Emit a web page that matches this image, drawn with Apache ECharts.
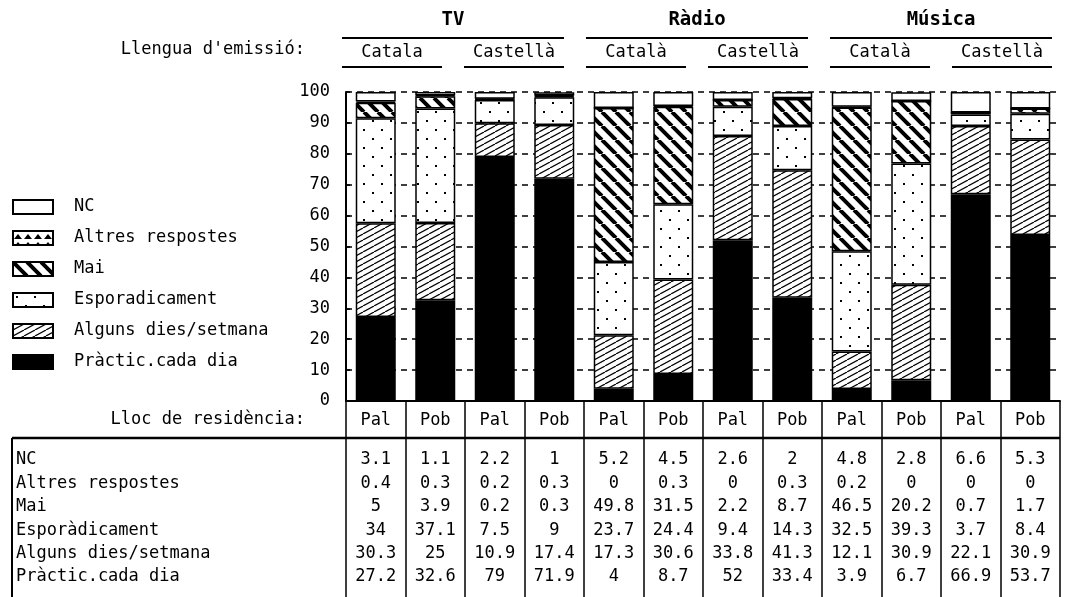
<!DOCTYPE html>
<html><head><meta charset="utf-8">
<script src="https://cdn.jsdelivr.net/npm/echarts@6/dist/echarts.min.js"></script>
<style>html,body{margin:0;padding:0;background:#fff}#c{width:1065px;height:597px}</style>
</head><body><div id="c"></div>
<script>
// ---- data ----
const categories = ['Pal','Pob','Pal','Pob','Pal','Pob','Pal','Pob','Pal','Pob','Pal','Pob'];
const media = ['TV','Ràdio','Música'];
const languages = ['Catala','Castellà','Català','Castellà','Català','Castellà'];
const legendNames = ['NC','Altres respostes','Mai','Esporadicament','Alguns dies/setmana','Pràctic.cada dia'];
const tableRowLabels = ['NC','Altres respostes','Mai','Esporàdicament','Alguns dies/setmana','Pràctic.cada dia'];
const yTicks = [0,10,20,30,40,50,60,70,80,90,100];
const valNC      = [3.1,1.1,2.2,1,5.2,4.5,2.6,2,4.8,2.8,6.6,5.3];
const valAltres  = [0.4,0.3,0.2,0.3,0,0.3,0,0.3,0.2,0,0,0];
const valMai     = [5,3.9,0.2,0.3,49.8,31.5,2.2,8.7,46.5,20.2,0.7,1.7];
const valEspor   = [34,37.1,7.5,9,23.7,24.4,9.4,14.3,32.5,39.3,3.7,8.4];
const valAlguns  = [30.3,25,10.9,17.4,17.3,30.6,33.8,41.3,12.1,30.9,22.1,30.9];
const valPractic = [27.2,32.6,79,71.9,4,8.7,52,33.4,3.9,6.7,66.9,53.7];

const FONT = '"DejaVu Sans Mono", "Liberation Mono", monospace';

function pat(w,h,draw){
  const c=document.createElement('canvas');c.width=w;c.height=h;
  const g=c.getContext('2d');g.fillStyle='#fff';g.fillRect(0,0,w,h);
  g.fillStyle='#000';g.strokeStyle='#000';draw(g,w,h);
  return {image:c,repeat:'repeat'};
}
const fillNC = '#ffffff';
const fillAltres = pat(10,8,(g,w,h)=>{g.beginPath();g.moveTo(1,h);g.lineTo(5,3);g.lineTo(9,h);g.closePath();g.fill();});
const fillMai = pat(14,14,(g,w,h)=>{g.lineWidth=4;g.beginPath();for(const dx of [-w,0,w]){g.moveTo(dx,0);g.lineTo(dx+w,h);}g.stroke();});
const fillEspor = pat(18,18,(g)=>{g.fillRect(3,3,2,2);g.fillRect(12,12,2,2);});
const fillAlguns = pat(11,6,(g,w,h)=>{g.lineWidth=1.2;g.beginPath();for(const dx of [-w,0,w]){g.moveTo(dx,h);g.lineTo(dx+w,0);}g.stroke();});
const fillPractic = '#000000';

const seriesDefs = [
  [legendNames[5], valPractic, fillPractic],
  [legendNames[4], valAlguns, fillAlguns],
  [legendNames[3], valEspor, fillEspor],
  [legendNames[2], valMai, fillMai],
  [legendNames[1], valAltres, fillAltres],
  [legendNames[0], valNC, fillNC]
];

const chart = echarts.init(document.getElementById('c'), null, {renderer:'canvas'});
const option = {
  backgroundColor:'#fff',
  animation:false,
  textStyle:{fontFamily:FONT,color:'#000'},
  legend:{
    data:legendNames, orient:'vertical', left:12, top:197, padding:0, itemWidth:40, itemHeight:14, itemGap:11,
    icon:'rect',
    textStyle:{fontFamily:FONT,fontSize:17,color:'#000',padding:[0,0,0,16],lineHeight:20},
    selectedMode:false
  },
  grid:{left:346, top:92, right:5, bottom:196, containLabel:false},
  xAxis:{
    type:'category', data:categories,
    axisLine:{lineStyle:{color:'#000',width:2}},
    axisTick:{show:true, alignWithLabel:false, inside:false, length:196, lineStyle:{color:'#000',width:1.5}},
    axisLabel:{fontFamily:FONT,fontSize:17,color:'#000',margin:11},
    splitLine:{show:false}
  },
  yAxis:{
    type:'value', min:0, max:100, interval:10,
    axisLine:{show:true,lineStyle:{color:'#000',width:2}},
    axisTick:{show:true,inside:true,length:4,lineStyle:{color:'#000',width:1.5}},
    axisLabel:{fontFamily:FONT,fontSize:17,color:'#000',margin:16},
    splitLine:{show:true,lineStyle:{color:'#000',width:1.5,type:[6,5]}}
  },
  series: seriesDefs.map(([name,data,fill])=>({
    name, type:'bar', stack:'t', data, barWidth:40,
    itemStyle:{color:fill,borderColor:'#000',borderWidth:1.5},
    emphasis:{disabled:true}
  }))
};
chart.setOption(option);

function buildGraphics(){
  const px = i => chart.convertToPixel({xAxisIndex:0}, i);
  const band = px(1)-px(0);
  const bandLeft = i => px(i)-band/2;
  const els = [];
  const txt = (text,x,y,opts={}) => els.push({type:'text',x,y,silent:true,style:Object.assign({text,fontFamily:FONT,fontSize:17,fill:'#000',align:'center',verticalAlign:'middle'},opts)});
  const line = (x1,y1,x2,y2,w=2) => els.push({type:'line',silent:true,shape:{x1,y1,x2,y2},style:{stroke:'#000',lineWidth:w}});
  const langSpan = [];
  for(let k=0;k<languages.length;k++){
    const s = bandLeft(2*k) - 4 + 3*k, e = s + 100;
    langSpan.push([s,e]);
    txt(languages[k], (s+e)/2, 53);
    line(s,67,e,67);
  }
  for(let g=0;g<media.length;g++){
    const s = langSpan[2*g][0], e = langSpan[2*g+1][1];
    line(s,38,e,38);
    txt(media[g], (s+e)/2, 20, {fontWeight:'bold',fontSize:19});
  }
  txt("Llengua d'emissió:", 305, 50, {align:'right'});
  txt('Lloc de residència:', 305, 420, {align:'right'});
  const tableTop = 438;
  line(12, tableTop, bandLeft(11)+band, tableTop, 2.5);
  line(12, tableTop, 12, 597, 2);
  const rowVals = [valNC,valAltres,valMai,valEspor,valAlguns,valPractic];
  for(let r=0;r<tableRowLabels.length;r++){
    const y = 460 + 23.4*r;
    txt(tableRowLabels[r], 16, y, {align:'left'});
    for(let i=0;i<categories.length;i++) txt(String(rowVals[r][i]), px(i), y);
  }
  chart.setOption({graphic:{elements:els}});
}
buildGraphics();
</script>
</body></html>
